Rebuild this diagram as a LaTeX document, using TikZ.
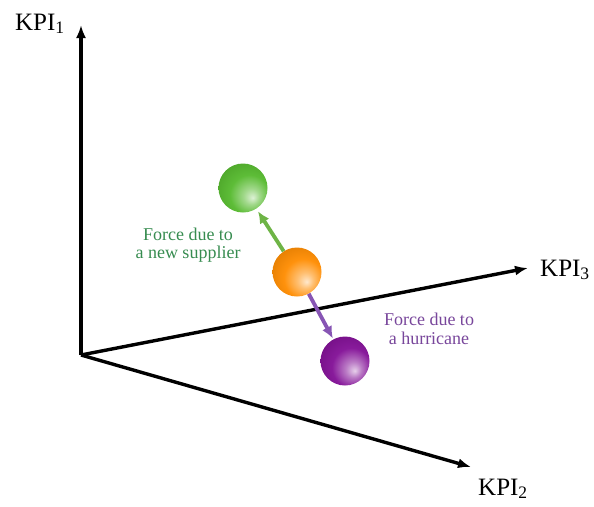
\documentclass[tikz,border=0pt]{standalone}
\usepackage{fontspec}
\setmainfont{Liberation Serif}
\usetikzlibrary{arrows.meta}
\definecolor{kgreen}{RGB}{85,185,45}
\definecolor{kgreentxt}{RGB}{55,140,80}
\definecolor{karrowg}{RGB}{110,180,70}
\definecolor{korange}{RGB}{255,140,0}
\definecolor{kpurple}{RGB}{130,15,150}
\definecolor{kpurpletxt}{RGB}{120,70,155}
\definecolor{karrowp}{RGB}{135,85,180}
\colorlet{ballc}{kgreen}
\pgfdeclareradialshading[ballc]{kball}{\pgfpoint{10bp}{-10bp}}{%
  color(0bp)=(ballc!20!white); color(8bp)=(ballc!55!white);
  color(20bp)=(ballc!95!white); color(36bp)=(ballc!88!black);
  color(46bp)=(ballc!72!black); color(60bp)=(ballc!62!black)}
\begin{document}
\begin{tikzpicture}[x=1pt,y=-1pt,
    axis/.style={line width=3.4pt,-{Latex[length=13pt,width=10pt]}},
    kpi/.style={font=\fontsize{25}{27}\selectfont,inner sep=0pt,anchor=base west},
    ball/.style={circle,minimum size=49pt,inner sep=0pt,
                 /utils/exec={\colorlet{ballc}{#1}},shading=kball},
    force/.style={line width=3.8pt,-{Latex[length=12pt,width=11pt]}},
    lbl/.style={font=\fontsize{18}{18.5}\selectfont,align=center}]
  \useasboundingbox (0,0) rectangle (594,506);
  %-------------------------------------------------- the three axes
  \coordinate (o)  at (81,355);
  \coordinate (e1) at (81,25);
  \coordinate (e2) at (471,467);
  \coordinate (e3) at (528,268);
  \draw[axis] (o) -- (e1);
  \draw[axis] (o) -- (e2);
  \draw[axis] (o) -- (e3);
  \node[kpi] (k1) at (15,30)  {KPI\textsubscript{1}};
  \node[kpi] (k2) at (478,495) {KPI\textsubscript{2}};
  \node[kpi] (k3) at (540,276) {KPI\textsubscript{3}};
  %-------------------------------------------------- the state and its moves
  \node[ball=kgreen]  (g) at (243,188) {};
  \node[ball=korange] (s) at (297,272) {};
  \node[ball=kpurple] (p) at (345,361) {};
  \draw[force,karrowg,shorten >=3pt] (s) -- (g);
  \draw[force,karrowp,shorten >=1pt] (s) -- (p);
  \node[lbl,text=kgreentxt]  (lg) at (188,245) {Force due to\\a new supplier};
  \node[lbl,text=kpurpletxt] (lp) at (429,329) {Force due to\\a hurricane};
\end{tikzpicture}
\end{document}
